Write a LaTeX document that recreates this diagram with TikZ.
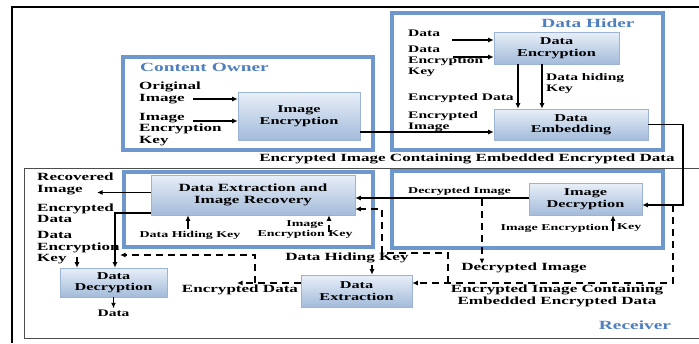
\documentclass[tikz,border=0pt]{standalone}
\usepackage{fontspec}
\setmainfont{Liberation Serif}[FakeStretch=1.55]
\usetikzlibrary{arrows.meta}
\definecolor{frameblue}{HTML}{6D97CD}
\definecolor{titleblue}{HTML}{4F7FBF}
\definecolor{boxtop}{HTML}{E8EFF8}
\definecolor{boxbot}{HTML}{A3BBDA}
\definecolor{boxline}{HTML}{9DB3D3}
\begin{document}
\begin{tikzpicture}[x=1pt,y=-1pt,
  fbox/.style={draw=frameblue, line width=3.5pt},
  pbox/.style={draw=boxline, line width=0.6pt, top color=boxtop, bottom color=boxbot, align=center, inner sep=0pt, font=\bfseries\fontsize{10.5}{11.5}\selectfont},
  lbl/.style={inner sep=0pt, align=left, font=\bfseries\fontsize{10}{11}\selectfont},
  lblb/.style={lbl, font=\bfseries\fontsize{11}{11.5}\selectfont},
  lbls/.style={lbl, font=\bfseries\fontsize{9}{10}\selectfont},
  ttl/.style={inner sep=0pt, text=titleblue, font=\bfseries\fontsize{12.5}{14}\selectfont},
  arr/.style={-{Latex[length=5.5pt,width=5pt]}, line width=1.3pt},
  dsh/.style={arr, dash pattern=on 7pt off 5pt},
  ln/.style={line width=1.3pt}]
\useasboundingbox (0,0) rectangle (699,343);
% outer frame
\draw[line width=1.5pt] (12,343) -- (12,7);
\draw[line width=2.5pt] (11.25,7) -- (699,7);
% receiver frame
\draw[line width=0.9pt, draw=black!70] (699,168) -- (24,168) -- (24,338) -- (699,338);
% blue frames
\draw[fbox] (123,57) rectangle (373,150);
\draw[fbox] (392,13) rectangle (663,150);
\draw[fbox] (124,172) rectangle (373,247);
\draw[fbox] (392,171) rectangle (663,248);
% titles
\node[ttl, anchor=west] (tco) at (140,67) {Content Owner};
\node[ttl] (tdh) at (588,23) {Data Hider};
\node[ttl] (trc) at (635,325) {Receiver};
% process boxes
\node[pbox, minimum width=122pt, minimum height=48pt] (ie) at (299,116) {Image\\Encryption};
\node[pbox, minimum width=125pt, minimum height=32pt] (de) at (556.5,48) {Data\\Encryption};
\node[pbox, minimum width=154pt, minimum height=31pt] (demb) at (571,124.5) {Data\\Embedding};
\node[pbox, minimum width=204pt, minimum height=40pt, font=\bfseries\fontsize{11}{11.5}\selectfont] (dxr) at (253,195) {Data Extraction and\\Image Recovery};
\node[pbox, minimum width=113pt, minimum height=32pt] (idec) at (585.5,199) {Image\\Decryption};
\node[pbox, minimum width=107pt, minimum height=29pt] (ddec) at (113.5,282.5) {Data\\Decryption};
\node[pbox, minimum width=111pt, minimum height=32pt] (dx) at (356.5,291) {Data\\Extraction};
% labels: content owner
\node[lblb, anchor=west] (loi) at (139,93) {Original\\Image};
\node[lblb, anchor=west] (liek) at (139,129.5) {Image\\Encryption\\Key};
% labels: data hider
\node[lbl, anchor=west] (ld) at (408,33) {Data};
\node[lbl, anchor=west] (ldek) at (408,61) {Data\\Encryption\\Key};
\node[lbl, anchor=west] (led) at (408,98) {Encrypted Data};
\node[lbl, anchor=west] (ldhk) at (546,84) {Data hiding\\Key};
\node[lbl, anchor=west] (lei) at (408,122) {Encrypted\\Image};
\node[lblb] (leic) at (467,159) {Encrypted Image Containing Embedded Encrypted Data};
% labels: receiver
\node[lblb, anchor=west] (lri) at (37,184) {Recovered\\Image};
\node[lblb, anchor=west] (lred) at (37,213) {Encrypted\\Data};
\node[lblb, anchor=west] (lrdek) at (37,248) {Data\\Encryption\\Key};
\node[lbls] (lrdhk) at (190,235) {Data Hiding Key};
\node[lbls, align=center] (lriek) at (305,230) {Image\hspace{14pt}\\Encryption Key};
\node[lbls, anchor=west] (lrdi) at (408,191) {Decrypted Image};
\node[lbls, anchor=east] (lriek2) at (609,228) {Image Encryption};
\node[lbls, anchor=west] (lriek3) at (617,228) {Key};
\node[lblb] (lrdi2) at (524,268) {Decrypted Image};
\node[lblb] (lrdhk2) at (347,258) {Data Hiding Key};
\node[lblb] (lred2) at (240,290) {Encrypted Data};
\node[lblb, align=center] (lreic) at (557,296) {Encrypted Image Containing\\Embedded Encrypted Data};
\node[lbl] (lrd) at (113.5,313) {Data};
% connectors: content owner / data hider
\coordinate (c1) at (193,99);
\coordinate (c2) at (193,121);
\draw[arr] (c1) -- (c1 -| ie.west);
\draw[arr] (c2) -- (c2 -| ie.west);
\draw[arr] ([yshift=-16pt]ie.east) -- ([yshift=-16pt]ie.east -| demb.west);
\coordinate (c3) at (452,40);
\coordinate (c4) at (453,57);
\draw[arr] (c3) -- (c3 -| de.west);
\draw[arr] (c4) -- (c4 -| de.west);
\draw[arr] ([xshift=-38.5pt]de.south) -- ([xshift=-38.5pt]de.south |- demb.north);
\draw[arr] ([xshift=-14.5pt]de.south) -- ([xshift=-14.5pt]de.south |- demb.north);
\coordinate (c5) at (683,124.5);
\coordinate (c6) at (683,205);
\draw[arr] (demb.east) -- (c5) -- (c6) -- ([yshift=-6pt]idec.east);
% receiver connectors
\draw[arr] ([yshift=1pt]idec.west) -- ([yshift=1pt]idec.west -| dxr.east);
\coordinate (c7) at (482,199);
\coordinate (c8) at (482,264);
\draw[dsh] (c7) -- (c8);
\coordinate (c9) at (613,231);
\draw[arr] (c9) -- (c9 |- idec.south);
\coordinate (c10) at (673,205);
\coordinate (c11) at (673,283);
\draw[dsh] (c10) -- (c11) -- ([yshift=8pt]dx.east);
\coordinate (c12) at (448,283);
\coordinate (c13) at (448,253);
\coordinate (c14) at (382,253);
\coordinate (c15) at (382,209);
\draw[dsh] (c12) -- (c13) -- (c14) -- (c15) -- ([yshift=-14pt]dxr.east);
\coordinate (c16) at (372,265);
\draw[arr] (c16) -- (c16 |- dx.north);
\coordinate (c17) at (188,229);
\draw[arr] (c17) -- (c17 |- dxr.south);
\coordinate (c18) at (329,232);
\draw[dsh] (c18) -- (c18 |- dxr.south);
\coordinate (c19) at (97,192.5);
\draw[arr] (c19 -| dxr.west) -- (c19);
\coordinate (c20) at (115,213);
\draw[arr] (c20 -| dxr.west) -- (c20) -- (c20 |- ddec.north);
\coordinate (c21) at (77,257);
\draw[arr] (c21) -- (c21 |- ddec.north);
\draw[arr] (ddec.south) -- ++(0,11);
\coordinate (c22) at (237,283);
\draw[dsh] ([yshift=8pt]dx.west) -- (c22);
\coordinate (c23) at (255,283);
\coordinate (c24) at (255,255);
\coordinate (c25) at (120,255);
\draw[dsh] (c23) -- (c24) -- (c25);
\end{tikzpicture}
\end{document}
